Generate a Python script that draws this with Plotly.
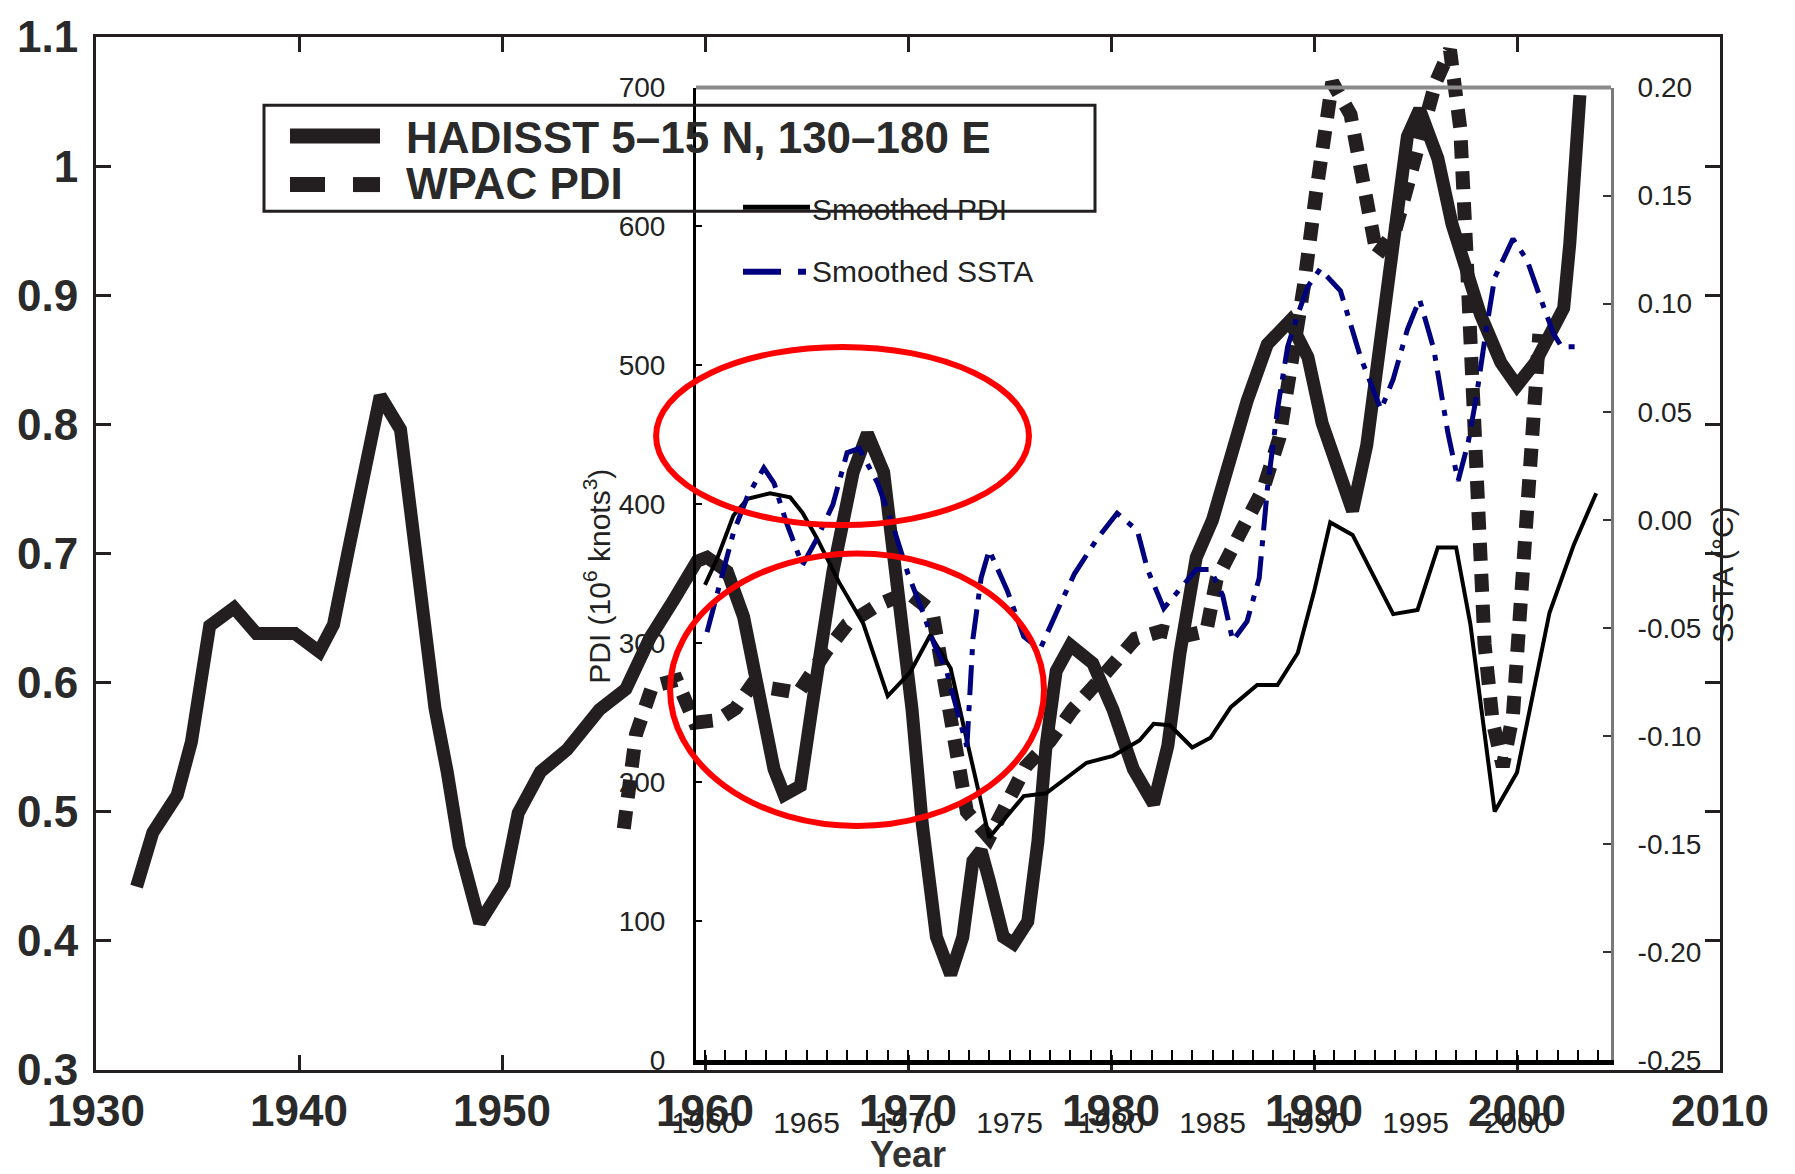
import plotly.graph_objects as go

# ---------------- data ----------------
hadisst_year = [1932.0, 1932.8, 1934.0, 1934.7, 1935.6, 1936.8, 1937.9, 1939.8, 1941.0, 1941.7,
                1942.4, 1944.0, 1945.0, 1946.0, 1946.7, 1947.3, 1947.9, 1948.9, 1950.1, 1950.8,
                1951.9, 1953.2, 1954.8, 1956.1, 1957.3, 1958.5, 1959.6, 1960.1, 1961.1, 1961.9,
                1962.7, 1963.4, 1963.9, 1964.7, 1965.3, 1966.3, 1967.3, 1968.0, 1968.8, 1969.6,
                1970.2, 1970.7, 1971.4, 1972.1, 1972.7, 1973.2, 1973.6, 1974.0, 1974.7, 1975.2,
                1975.9, 1976.4, 1976.8, 1977.3, 1978.0, 1979.1, 1980.1, 1981.1, 1982.1, 1982.8,
                1983.4, 1984.2, 1985.0, 1986.7, 1987.7, 1988.8, 1989.7, 1990.4, 1991.3, 1991.9,
                1992.6, 1993.3, 1993.9, 1994.6, 1995.2, 1996.1, 1996.8, 1997.2, 1998.2, 1999.2,
                2000.0, 2000.9, 2001.8, 2002.3, 2002.6, 2003.1]
hadisst_val = [0.442, 0.484, 0.513, 0.554, 0.644, 0.658, 0.638, 0.638, 0.624, 0.645,
               0.700, 0.822, 0.796, 0.676, 0.580, 0.531, 0.473, 0.414, 0.444, 0.499,
               0.531, 0.548, 0.579, 0.595, 0.635, 0.665, 0.694, 0.697, 0.686, 0.651,
               0.584, 0.533, 0.513, 0.520, 0.584, 0.686, 0.763, 0.793, 0.763, 0.667,
               0.579, 0.491, 0.403, 0.374, 0.403, 0.462, 0.470, 0.447, 0.403, 0.398,
               0.415, 0.477, 0.551, 0.609, 0.629, 0.615, 0.579, 0.533, 0.506, 0.551,
               0.623, 0.697, 0.726, 0.818, 0.862, 0.880, 0.852, 0.801, 0.760, 0.733,
               0.784, 0.869, 0.955, 1.023, 1.044, 1.006, 0.955, 0.935, 0.885, 0.848,
               0.830, 0.848, 0.872, 0.890, 0.940, 1.055]

wpac_year = [1956.0, 1956.6, 1957.4, 1958.6, 1959.5, 1960.6, 1961.5, 1962.3, 1963.5, 1964.6,
             1966.0, 1967.0, 1968.5, 1970.0, 1971.2, 1972.0, 1972.9, 1974.0, 1975.0, 1975.8,
             1977.0, 1978.1, 1979.6, 1981.2, 1982.5, 1983.6, 1984.7, 1985.2, 1986.5, 1987.5,
             1988.3, 1989.0, 1989.5, 1990.1, 1990.5, 1990.9, 1991.8, 1992.3, 1992.6, 1993.1,
             1994.0, 1995.0, 1996.0, 1996.7, 1997.2, 1997.5, 1997.8, 1998.1, 1998.4, 1998.8,
             1999.3, 1999.8, 2000.1, 2000.4, 2000.8, 2001.1]
wpac_val = [0.487, 0.560, 0.597, 0.602, 0.569, 0.571, 0.580, 0.598, 0.595, 0.592,
            0.625, 0.645, 0.660, 0.670, 0.655, 0.580, 0.500, 0.480, 0.513, 0.535,
            0.555, 0.579, 0.605, 0.634, 0.640, 0.636, 0.640, 0.680, 0.720, 0.750,
            0.790, 0.850, 0.907, 0.979, 1.030, 1.065, 1.040, 1.000, 0.965, 0.931,
            0.950, 1.010, 1.065, 1.090, 1.030, 0.936, 0.822, 0.720, 0.630, 0.570,
            0.535, 0.575, 0.637, 0.720, 0.812, 0.870]

pdi_year = [1960.0, 1960.6, 1961.4, 1962.1, 1963.2, 1964.2, 1964.8, 1965.5, 1966.6, 1967.8,
            1969.0, 1970.1, 1971.1, 1972.1, 1972.9, 1973.5, 1974.0, 1974.9, 1975.7, 1976.8,
            1978.8, 1980.1, 1981.4, 1982.1, 1982.9, 1984.0, 1984.9, 1985.9, 1987.2, 1988.2,
            1989.2, 1990.0, 1990.8, 1991.9, 1992.8, 1993.9, 1995.1, 1996.1, 1997.0, 1997.7,
            1998.9, 2000.0, 2001.6, 2002.8, 2003.9]
pdi_val = [342, 361, 392, 404, 408, 405, 394, 376, 344, 314,
           262, 279, 306, 282, 230, 190, 160, 176, 190, 192,
           214, 219, 230, 242, 241, 225, 232, 254, 270, 270,
           293, 337, 387, 378, 353, 321, 324, 369, 369, 314,
           179, 207, 322, 371, 408]

ssta_year = [1960.1, 1960.7, 1961.4, 1962.1, 1962.9, 1963.4, 1964.0, 1964.8, 1965.5, 1966.3,
             1967.0, 1967.6, 1968.5, 1969.3, 1970.0, 1970.7, 1971.3, 1971.9, 1972.5, 1972.9,
             1973.2, 1973.6, 1974.0, 1974.9, 1975.7, 1976.5, 1977.5, 1978.2, 1979.3, 1980.3,
             1981.3, 1981.8, 1982.6, 1983.4, 1984.2, 1984.9, 1985.5, 1986.0, 1986.7, 1987.3,
             1987.7, 1988.2, 1988.7, 1989.2, 1989.7, 1990.3, 1991.3, 1992.3, 1993.3, 1993.9,
             1994.6, 1995.2, 1995.9, 1996.6, 1997.1, 1997.6, 1998.0, 1998.5, 1998.9, 1999.8,
             2000.5, 2001.1, 2001.8, 2002.2, 2003.1]
ssta_val = [-0.052, -0.030, -0.006, 0.011, 0.024, 0.017, -0.001, -0.021, -0.009, 0.007,
            0.031, 0.033, 0.017, -0.004, -0.025, -0.042, -0.058, -0.070, -0.090, -0.105,
            -0.055, -0.027, -0.014, -0.033, -0.054, -0.060, -0.039, -0.025, -0.009, 0.003,
            -0.005, -0.023, -0.041, -0.032, -0.023, -0.023, -0.035, -0.056, -0.047, -0.027,
            0.014, 0.051, 0.080, 0.095, 0.108, 0.116, 0.106, 0.075, 0.051, 0.065,
            0.088, 0.102, 0.079, 0.040, 0.018, 0.036, 0.057, 0.089, 0.112, 0.130,
            0.120, 0.104, 0.086, 0.080, 0.080]

outer_xticks = [1930, 1940, 1950, 1960, 1970, 1980, 1990, 2000, 2010]
outer_yticks = [0.3, 0.4, 0.5, 0.6, 0.7, 0.8, 0.9, 1.0, 1.1]
outer_ytext = ["0.3", "0.4", "0.5", "0.6", "0.7", "0.8", "0.9", "1", "1.1"]
pdi_ticks = [0, 100, 200, 300, 400, 500, 600, 700]
ssta_ticks = [-0.25, -0.20, -0.15, -0.10, -0.05, 0.00, 0.05, 0.10, 0.15, 0.20]
ssta_text = ["-0.25", "-0.20", "-0.15", "-0.10", "-0.05", "0.00", "0.05", "0.10", "0.15", "0.20"]

# ---------------- layout helpers ----------------
W, H = 1795, 1174
L, R, T, B = 96, 1720, 27, 1070


def px(x):
    return (x - L) / (R - L)


def py(y):
    return (B - y) / (B - T)


SANS = "Liberation Sans, Arial, Helvetica, sans-serif"
DARK = "#231f20"
NAVY = "#00007f"
OUTER_FONT = dict(size=44, family=SANS, color="#2a2a2a", weight="bold")

fig = go.Figure()

fig.add_trace(go.Scatter(x=hadisst_year, y=hadisst_val, mode="lines",
                         line=dict(color=DARK, width=13), xaxis="x", yaxis="y",
                         name="HADISST 5–15 N, 130–180 E", showlegend=False))
fig.add_trace(go.Scatter(x=wpac_year, y=wpac_val, mode="lines",
                         line=dict(color=DARK, width=14, dash="18px,13px"), xaxis="x", yaxis="y",
                         name="WPAC PDI", showlegend=False))
fig.add_trace(go.Scatter(x=pdi_year, y=pdi_val, mode="lines",
                         line=dict(color="black", width=4), xaxis="x2", yaxis="y2",
                         name="Smoothed PDI", showlegend=False))
fig.add_trace(go.Scatter(x=ssta_year, y=ssta_val, mode="lines",
                         line=dict(color=NAVY, width=5, dash="30px,10px,6px,10px"),
                         xaxis="x2", yaxis="y3", name="Smoothed SSTA", showlegend=False))

inner_x_dom = [px(696), px(1611)]
inner_y_dom = [py(1060), py(78)]

fig.update_layout(
    width=W, height=H,
    margin=dict(l=L, r=W - R, t=T, b=H - B, pad=0),
    paper_bgcolor="white", plot_bgcolor="rgba(0,0,0,0)",
    showlegend=False,
    font=dict(family=SANS, color=DARK),
    xaxis=dict(domain=[0, 1], range=[1930, 2010], tickvals=outer_xticks,
               ticktext=[str(v) for v in outer_xticks],
               showline=True, linecolor=DARK, linewidth=3, mirror="ticks",
               ticks="inside", ticklen=15, tickwidth=3, tickcolor=DARK,
               showgrid=False, zeroline=False, ticklabelstandoff=0,
               tickfont=OUTER_FONT),
    yaxis=dict(domain=[0, 1], range=[0.3, 1.1], tickvals=outer_yticks, ticktext=outer_ytext,
               showline=True, linecolor=DARK, linewidth=3, mirror="ticks",
               ticks="inside", ticklen=15, tickwidth=3, tickcolor=DARK,
               showgrid=False, zeroline=False, ticklabelstandoff=6,
               tickfont=OUTER_FONT),
    xaxis2=dict(domain=inner_x_dom, anchor="y2", range=[1959.557, 2004.63],
                tick0=1960, dtick=5, tickformat="d",
                showline=True, linecolor="black", linewidth=5,
                ticks="inside", ticklen=10, tickwidth=2, tickcolor="black",
                minor=dict(dtick=1, ticks="inside", ticklen=10, tickwidth=2, tickcolor="black"),
                showgrid=False, zeroline=False, ticklabelstandoff=32,
                tickfont=dict(size=30, family=SANS, color="#222")),
    yaxis2=dict(domain=inner_y_dom, anchor="x2", range=[0, 700], tickvals=pdi_ticks,
                showline=True, linecolor="black", linewidth=3,
                ticks="inside", ticklen=6, tickwidth=2, tickcolor="black",
                showgrid=False, zeroline=False, ticklabelstandoff=22,
                tickfont=dict(size=28, family=SANS, color="#222")),
    yaxis3=dict(overlaying="y2", anchor="x2", side="right", range=[-0.25, 0.20],
                tickvals=ssta_ticks, ticktext=ssta_text,
                showline=True, linecolor="#7a7a7a", linewidth=3,
                ticks="inside", ticklen=8, tickwidth=2, tickcolor="#333",
                showgrid=False, zeroline=False, ticklabelstandoff=18,
                tickfont=dict(size=28, family=SANS, color="#222")),
)

shapes = []
# inner top border (grey)
shapes.append(dict(type="line", xref="paper", yref="paper", x0=px(696), x1=px(1611),
                   y0=py(78), y1=py(78), line=dict(color="#8a8a8a", width=4)))
# outer legend box
shapes.append(dict(type="rect", xref="paper", yref="paper", x0=px(264), x1=px(1095),
                   y0=py(203), y1=py(96), line=dict(color=DARK, width=3)))
shapes.append(dict(type="line", xref="paper", yref="paper", x0=px(290), x1=px(380),
                   y0=py(127), y1=py(127), line=dict(color=DARK, width=15)))
shapes.append(dict(type="line", xref="paper", yref="paper", x0=px(290), x1=px(325),
                   y0=py(176), y1=py(176), line=dict(color=DARK, width=15)))
shapes.append(dict(type="line", xref="paper", yref="paper", x0=px(353), x1=px(380),
                   y0=py(176), y1=py(176), line=dict(color=DARK, width=15)))
# inner legend symbols
shapes.append(dict(type="line", xref="paper", yref="paper", x0=px(743), x1=px(810),
                   y0=py(199), y1=py(199), line=dict(color="black", width=5)))
shapes.append(dict(type="line", xref="paper", yref="paper", x0=px(743), x1=px(781),
                   y0=py(264), y1=py(264), line=dict(color=NAVY, width=6)))
shapes.append(dict(type="line", xref="paper", yref="paper", x0=px(798), x1=px(806),
                   y0=py(264), y1=py(264), line=dict(color=NAVY, width=6)))
# red ellipses
shapes.append(dict(type="circle", xref="x", yref="y", x0=1957.59, x1=1975.96,
                   y0=0.722, y1=0.860, line=dict(color="#ff0000", width=6)))
shapes.append(dict(type="circle", xref="x", yref="y", x0=1958.28, x1=1976.70,
                   y0=0.489, y1=0.700, line=dict(color="#ff0000", width=6)))
fig.update_layout(shapes=shapes)

ann = []
ann.append(dict(text="HADISST 5–15 N, 130–180 E", xref="paper", yref="paper",
                x=px(404), y=py(128), xanchor="left", yanchor="middle", showarrow=False,
                font=OUTER_FONT))
ann.append(dict(text="WPAC PDI", xref="paper", yref="paper",
                x=px(404), y=py(175), xanchor="left", yanchor="middle", showarrow=False,
                font=OUTER_FONT))
ann.append(dict(text="Smoothed PDI", xref="paper", yref="paper",
                x=px(810), y=py(201), xanchor="left", yanchor="middle", showarrow=False,
                font=dict(size=30, family=SANS, color="#222")))
ann.append(dict(text="Smoothed SSTA", xref="paper", yref="paper",
                x=px(810), y=py(264), xanchor="left", yanchor="middle", showarrow=False,
                font=dict(size=30, family=SANS, color="#222")))
ann.append(dict(text="PDI (10<sup>6</sup> knots<sup>3</sup>)", xref="paper", yref="paper",
                x=px(597), y=py(572), textangle=-90, xanchor="center", yanchor="middle",
                showarrow=False, font=dict(size=30, family=SANS, color="#222")))
ann.append(dict(text="SSTA (°C)", xref="paper", yref="paper",
                x=px(1723), y=py(570), textangle=-90, xanchor="center", yanchor="middle",
                showarrow=False, font=dict(size=30, family=SANS, color="#222")))
ann.append(dict(text="<b>Year</b>", xref="paper", yref="paper",
                x=px(908), y=py(1155), xanchor="center", yanchor="middle",
                showarrow=False, font=dict(size=36, family=SANS, color="#333")))
fig.update_layout(annotations=ann)

fig.write_html("out.html")
